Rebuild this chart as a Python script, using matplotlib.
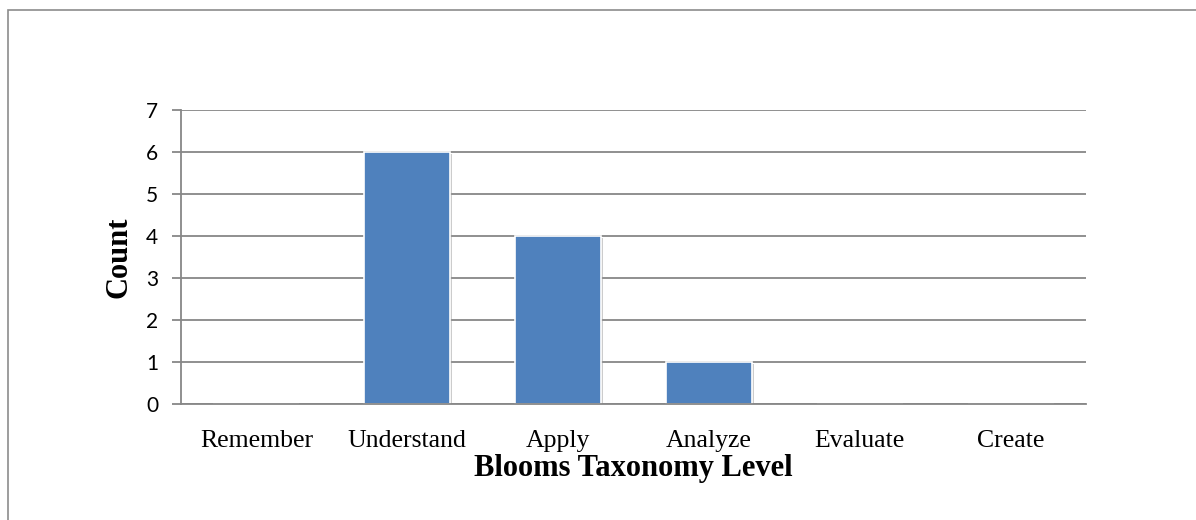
import matplotlib
matplotlib.use("Agg")
import matplotlib.pyplot as plt
import matplotlib.patheffects as pe
from matplotlib.patches import Rectangle

categories = ["Remember", "Understand", "Apply", "Analyze", "Evaluate", "Create"]
counts = [0, 6, 4, 1, 0, 0]
yticks = [0, 1, 2, 3, 4, 5, 6, 7]

W, H = 1196, 520
fig = plt.figure(figsize=(W / 100, H / 100), dpi=100)
fig.patch.set_facecolor("white")

# outer frame (only left and top visible, cropped at right/bottom)
fig.patches.append(Rectangle((8 / W, -0.1), 1.2, 1 - 10 / H + 0.1,
                             transform=fig.transFigure, fill=False,
                             edgecolor="#8c8c8c", linewidth=1.2))

ax = fig.add_axes([181 / W, 1 - 404 / H, (1086 - 181) / W, (404 - 110) / H])
x = range(len(categories))
bars = ax.bar(x, counts, width=0.57, color="#4F81BD", edgecolor="white",
              linewidth=1.2, zorder=2)
for b in bars:
    b.set_path_effects([pe.SimplePatchShadow(offset=(1.5, -1.5), shadow_rgbFace="#9a9a9a", alpha=0.5),
                        pe.Normal()])

ax.set_xlim(-0.5, len(categories) - 0.5)
ax.set_ylim(0, 7)
ax.set_yticks(yticks)
ax.yaxis.grid(True, color="#878787", linewidth=1.3, zorder=0)
ax.set_axisbelow(True)
for s in ["top", "right"]:
    ax.spines[s].set_visible(False)
for s in ["left", "bottom"]:
    ax.spines[s].set_color("#878787")
    ax.spines[s].set_linewidth(1.3)
    ax.spines[s].set_zorder(3)

ax.tick_params(axis="y", direction="out", length=6.5, width=1.3, color="#878787",
               labelsize=15, pad=10)
ax.tick_params(axis="x", length=0, pad=19)
for lbl in ax.get_yticklabels():
    lbl.set_family(["Lato", "DejaVu Sans"])

ax.set_xticks(list(x))
ax.set_xticklabels(categories, family="Liberation Serif", fontsize=18.5)

ax.set_xlabel("Blooms Taxonomy Level", family="Liberation Serif", fontsize=22,
              fontweight="bold", labelpad=1)
ax.set_ylabel("Count", family="Liberation Serif", fontsize=22,
              fontweight="bold", labelpad=9)

fig.savefig("out.png", dpi=100, facecolor="white")
